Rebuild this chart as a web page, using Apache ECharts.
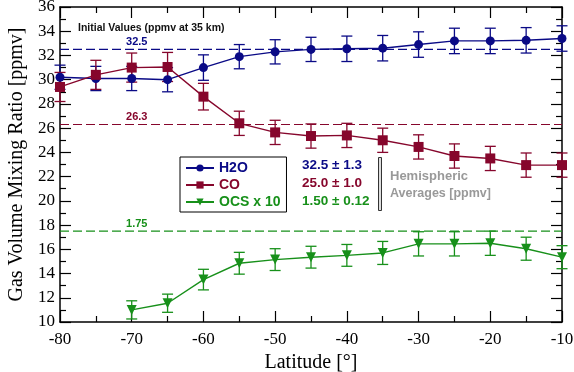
<!DOCTYPE html>
<html>
<head>
<meta charset="utf-8">
<script src="https://cdn.jsdelivr.net/npm/echarts@6/dist/echarts.min.js"></script>
<style>
  html, body { margin: 0; padding: 0; background: #fff; }
  #chart { width: 574px; height: 372px; }
</style>
</head>
<body>
<div id="chart"></div>
<script>
// latitudes of the profiles
const latitudes = [-80, -75, -70, -65, -60, -55, -50, -45, -40, -35, -30, -25, -20, -15, -10];

// H2O mixing ratio and its error
const h2o    = [30.2, 30.1, 30.1, 30.0, 31.0, 31.9, 32.3, 32.5, 32.55, 32.6, 32.9, 33.2, 33.2, 33.25, 33.4];
const h2oErr = [1.0, 1.0, 1.0, 1.0, 1.05, 1.0, 1.0, 1.0, 1.05, 1.05, 1.05, 1.05, 1.05, 1.05, 1.05];

// CO mixing ratio and its error
const co    = [29.4, 30.4, 31.0, 31.05, 28.6, 26.4, 25.65, 25.35, 25.4, 25.0, 24.45, 23.7, 23.5, 22.95, 22.95];
const coErr = [1.2, 1.2, 1.2, 1.2, 1.1, 1.0, 1.0, 1.0, 1.0, 1.0, 1.0, 1.0, 1.0, 1.0, 1.0];

// OCS x 10 (no values at -80 / -75)
const ocsLat = [-70, -65, -60, -55, -50, -45, -40, -35, -30, -25, -20, -15, -10];
const ocs    = [11.0, 11.55, 13.5, 14.85, 15.15, 15.35, 15.5, 15.7, 16.45, 16.45, 16.5, 16.05, 15.35];
const ocsErr = [0.75, 0.75, 0.85, 0.9, 0.9, 0.9, 0.9, 0.95, 1.0, 1.0, 1.0, 0.95, 0.95];

// initial values at 35 km (OCS scaled x10), drawn across the full latitude range
const initSpan = [-80, -10];
const initH2O = 32.5;
const initCO  = 26.3;
const initOCS = 17.5;
const initLabels = ['32.5', '26.3', '1.75'];
const initLabelLat = -69.3;

const blue  = '#0a0a86';
const red   = '#86062c';
const green = '#17901a';

const chart = echarts.init(document.getElementById('chart'));

function pairs(xs, ys) {
  return xs.map((x, i) => [x, ys[i]]);
}
function bars(xs, ys, es) {
  return xs.map((x, i) => [x, ys[i] - es[i], ys[i] + es[i]]);
}

function errorBarSeries(name, data, color) {
  return {
    type: 'custom',
    name: name + ' err',
    data: data,
    z: 3,
    renderItem: function (params, api) {
      const x = api.value(0);
      const top = api.coord([x, api.value(2)]);
      const bot = api.coord([x, api.value(1)]);
      const w = 5.5;
      const style = { stroke: color, lineWidth: 1.3 };
      return {
        type: 'group',
        children: [
          { type: 'line', shape: { x1: top[0], y1: top[1], x2: bot[0], y2: bot[1] }, style: style },
          { type: 'line', shape: { x1: top[0] - w, y1: top[1], x2: top[0] + w, y2: top[1] }, style: style },
          { type: 'line', shape: { x1: bot[0] - w, y1: bot[1], x2: bot[0] + w, y2: bot[1] }, style: style }
        ]
      };
    },
    encode: { x: 0, y: [1, 2] },
    silent: true
  };
}

// dashed horizontal line for an initial value
function initLineSeries(value, color) {
  return {
    name: 'init ' + value, type: 'line', z: 2, silent: true,
    data: initSpan.map(x => [x, value]),
    symbol: 'none',
    lineStyle: { color: color, type: [9, 4], width: 1.2 }
  };
}

// its numeric label
function initLabelSeries(value, color, text) {
  return {
    name: 'label ' + value, type: 'scatter', z: 5, silent: true,
    data: [[initLabelLat, value]],
    symbolSize: 0,
    itemStyle: { color: color, opacity: 1 },
    label: {
      show: true, position: 'top', distance: 2,
      formatter: text, color: color,
      fontFamily: 'Liberation Sans', fontWeight: 'bold', fontSize: 11
    }
  };
}

const tickFont = { fontFamily: 'Liberation Serif', fontSize: 17, color: '#000' };

const option = {
  animation: false,
  backgroundColor: '#fff',
  grid: { left: 60, right: 12, top: 7, bottom: 50, outerBoundsMode: 'none' },
  xAxis: [
    {
      type: 'value', min: -80, max: -10, interval: 10,
      name: 'Latitude [°]', nameLocation: 'middle', nameGap: 29,
      nameTextStyle: { fontFamily: 'Liberation Serif', fontSize: 20, color: '#000' },
      axisLine: { show: true, lineStyle: { color: '#000', width: 1.5 } },
      axisTick: { show: true, inside: true, length: 11, lineStyle: { color: '#000', width: 1.2 } },
      minorTick: { show: true, splitNumber: 2, length: 6, lineStyle: { color: '#000', width: 1.2 } },
      axisLabel: Object.assign({ margin: 9 }, tickFont),
      splitLine: { show: false }
    },
    {
      type: 'value', min: -80, max: -10, interval: 10, position: 'top',
      axisLine: { show: true, lineStyle: { color: '#000', width: 1.5 } },
      axisTick: { show: true, inside: true, length: 11, lineStyle: { color: '#000', width: 1.2 } },
      minorTick: { show: true, splitNumber: 2, length: 6, lineStyle: { color: '#000', width: 1.2 } },
      axisLabel: { show: false },
      splitLine: { show: false }
    }
  ],
  yAxis: [
    {
      type: 'value', min: 10, max: 36, interval: 2,
      name: 'Gas Volume Mixing Ratio [ppmv]', nameLocation: 'middle', nameGap: 31,
      nameTextStyle: { fontFamily: 'Liberation Serif', fontSize: 20, color: '#000' },
      axisLine: { show: true, lineStyle: { color: '#000', width: 1.5 } },
      axisTick: { show: true, inside: true, length: 11, lineStyle: { color: '#000', width: 1.2 } },
      minorTick: { show: true, splitNumber: 2, length: 6, lineStyle: { color: '#000', width: 1.2 } },
      axisLabel: Object.assign({ margin: 5 }, tickFont),
      splitLine: { show: false }
    },
    {
      type: 'value', min: 10, max: 36, interval: 2, position: 'right',
      axisLine: { show: true, lineStyle: { color: '#000', width: 1.5 } },
      axisTick: { show: true, inside: true, length: 11, lineStyle: { color: '#000', width: 1.2 } },
      minorTick: { show: true, splitNumber: 2, length: 6, lineStyle: { color: '#000', width: 1.2 } },
      axisLabel: { show: false },
      splitLine: { show: false }
    }
  ],
  legend: {
    orient: 'vertical',
    left: 180, top: 157,
    padding: [4, 6, 3, 5],
    itemGap: 3,
    itemWidth: 28, itemHeight: 9,
    borderColor: '#000', borderWidth: 1,
    textStyle: { fontFamily: 'Liberation Sans', fontWeight: 'bold', fontSize: 14 },
    data: [
      { name: 'H2O', textStyle: { color: blue } },
      { name: 'CO', textStyle: { color: red } },
      { name: 'OCS x 10', textStyle: { color: green } }
    ]
  },
  series: [
    initLineSeries(initH2O, blue),
    initLineSeries(initCO, red),
    initLineSeries(initOCS, green),
    initLabelSeries(initH2O, blue, initLabels[0]),
    initLabelSeries(initCO, red, initLabels[1]),
    initLabelSeries(initOCS, green, initLabels[2]),
    errorBarSeries('H2O', bars(latitudes, h2o, h2oErr), blue),
    errorBarSeries('CO', bars(latitudes, co, coErr), red),
    errorBarSeries('OCS x 10', bars(ocsLat, ocs, ocsErr), green),
    {
      name: 'H2O', type: 'line', data: pairs(latitudes, h2o), z: 4,
      symbol: 'circle', symbolSize: 9, clip: false,
      itemStyle: { color: blue }, lineStyle: { color: blue, width: 1.4 }
    },
    {
      name: 'CO', type: 'line', data: pairs(latitudes, co), z: 4,
      symbol: 'rect', symbolSize: 10, clip: false,
      itemStyle: { color: red }, lineStyle: { color: red, width: 1.4 }
    },
    {
      name: 'OCS x 10', type: 'line', data: pairs(ocsLat, ocs), z: 4,
      symbol: 'triangle', symbolRotate: 180, symbolSize: 10, clip: false,
      itemStyle: { color: green }, lineStyle: { color: green, width: 1.4 }
    }
  ],
  graphic: [
    {
      type: 'text', left: 78, top: 23,
      style: { text: 'Initial Values (ppmv at 35 km)', fill: '#111', font: 'bold 10.5px "Liberation Sans"' }
    },
    {
      type: 'text', left: 302, top: 158,
      style: { text: '32.5 ± 1.3', fill: blue, font: 'bold 13.5px "Liberation Sans"' }
    },
    {
      type: 'text', left: 302, top: 176,
      style: { text: '25.0 ± 1.0', fill: red, font: 'bold 13.5px "Liberation Sans"' }
    },
    {
      type: 'text', left: 302, top: 194,
      style: { text: '1.50 ± 0.12', fill: green, font: 'bold 13.5px "Liberation Sans"' }
    },
    {
      type: 'rect', left: 378, top: 157,
      shape: { width: 3, height: 53 },
      style: { fill: '#ddd', stroke: '#333', lineWidth: 1 }
    },
    {
      type: 'text', left: 390, top: 170,
      style: { text: 'Hemispheric', fill: '#999', font: 'bold 13px "Liberation Sans"' }
    },
    {
      type: 'text', left: 390, top: 187,
      style: { text: 'Averages [ppmv]', fill: '#999', font: 'bold 12.5px "Liberation Sans"' }
    }
  ]
};

chart.setOption(option);
</script>
</body>
</html>
